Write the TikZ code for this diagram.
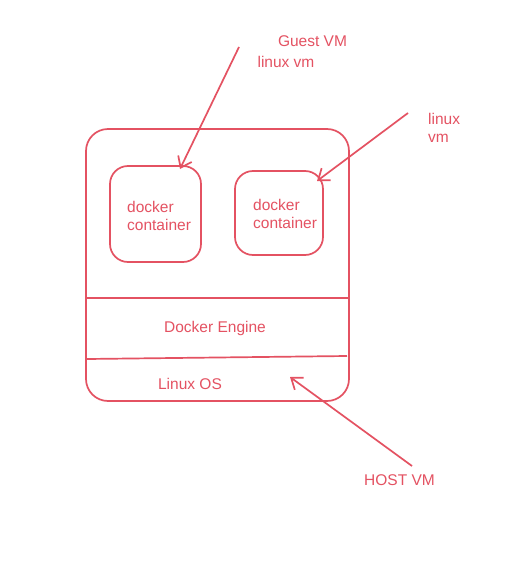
\documentclass[tikz,border=0pt]{standalone}
\usepackage{fontspec}
\setmainfont{Liberation Sans}
\usetikzlibrary{arrows.meta}
\definecolor{sk}{RGB}{228,82,98}
\begin{document}
\begin{tikzpicture}[x=1pt,y=-1pt,
  skline/.style={draw=sk,line width=1.7pt},
  lbl/.style={text=sk,font=\fontsize{15.5}{18}\selectfont,inner sep=0pt},
  cbox/.style={skline,rounded corners=18pt,inner sep=0pt},
  skarrow/.style={skline,-{Straight Barb[length=10pt,width=15pt,line width=1.7pt]}}]
\useasboundingbox[fill=white] (0,0) rectangle (511,562);
% host box
\node[skline,rounded corners=22pt,minimum width=263pt,minimum height=272pt,inner sep=0pt] (host) at (217.5,265) {};
\coordinate (l1a) at (87,298);
\coordinate (l1b) at (348,298);
\coordinate (l2a) at (87,359);
\coordinate (l2b) at (347,356);
\draw[skline] (l1a) -- (l1b);
\draw[skline] (l2a) -- (l2b);
% containers
\node[cbox,minimum width=91pt,minimum height=96pt] (c1) at (155.5,214) {};
\node[lbl,anchor=north west,align=left] (t1) at (127,201) {docker\\container};
\node[cbox,minimum width=88pt,minimum height=84pt] (c2) at (279,213) {};
\node[lbl,anchor=north west,align=left] (t2) at (253,199) {docker\\container};
% layer labels
\node[lbl] (eng) at (215,328) {Docker Engine};
\node[lbl] (os) at (190,384) {Linux OS};
% outside labels
\node[lbl] (guest) at (312.5,41) {Guest VM};
\node[lbl] (lvm1) at (286,62) {linux vm};
\node[lbl,anchor=west,align=left] (lvm2) at (428,128) {linux\\vm};
\node[lbl] (hostvm) at (399.5,480) {HOST VM};
% arrows
\coordinate (a1s) at (239,47);
\coordinate (a1e) at (180,169);
\coordinate (a2s) at (408,113);
\coordinate (a2e) at (317,181);
\coordinate (a3s) at (412,466);
\coordinate (a3e) at (290,377);
\draw[skarrow] (a1s) -- (a1e);
\draw[skarrow] (a2s) -- (a2e);
\draw[skarrow] (a3s) -- (a3e);
\end{tikzpicture}
\end{document}
